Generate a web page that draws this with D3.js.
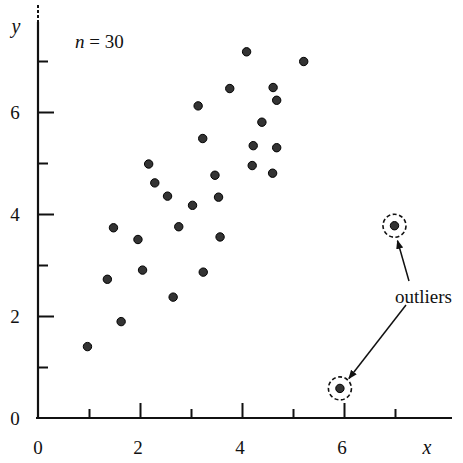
<!DOCTYPE html>
<html>
<head>
<meta charset="utf-8">
<script src="https://cdn.jsdelivr.net/npm/d3@7"></script>
<style>
  body { margin: 0; background: #fff; }
  text { font-family: "Liberation Serif", "DejaVu Serif", serif; fill: #111; }
</style>
</head>
<body>
<svg width="463" height="463"></svg>
<script>
let svg = d3.select("svg");

// donnees (n = 30)
let xs = [4.09, 5.21, 3.76, 4.61, 4.68, 3.14, 4.39, 3.23, 4.22, 4.68,
          2.17, 4.20, 3.47, 4.60, 2.29, 2.54, 3.54, 3.03, 1.48, 2.76,
          3.57, 1.96, 2.05, 3.24, 1.36, 2.65, 1.63, 0.97, 6.99, 5.92];
let ys = [7.18, 6.99, 6.46, 6.48, 6.23, 6.12, 5.80, 5.48, 5.34, 5.30,
          4.98, 4.95, 4.76, 4.80, 4.61, 4.35, 4.33, 4.17, 3.73, 3.75,
          3.55, 3.50, 2.90, 2.86, 2.72, 2.37, 1.89, 1.40, 3.77, 0.58];
let outlierIdx = [28, 29];
let tickValues = [1, 2, 3, 4, 5, 6, 7];
let labelValues = [0, 2, 4, 6];

let points = xs.map((v, i) => ({ x: v, y: ys[i], outlier: outlierIdx.includes(i) }));

let x = d3.scaleLinear().domain([0, 7]).range([38, 395]);
let y = d3.scaleLinear().domain([0, 7]).range([418, 61]);

// fleches
let defs = svg.append("defs");
defs.append("marker")
    .attr("id", "fleche")
    .attr("viewBox", "0 0 10 10")
    .attr("refX", 9).attr("refY", 5)
    .attr("markerWidth", 9).attr("markerHeight", 9)
    .attr("markerUnits", "userSpaceOnUse")
    .attr("orient", "auto")
    .append("path")
    .attr("d", "M0,1 L10,5 L0,9 Z")
    .attr("fill", "#111");

// axe des x (graduations vers le haut)
let axeX = svg.append("g")
    .attr("transform", `translate(0,${y(0)})`)
    .call(d3.axisBottom(x).tickValues(tickValues).tickSize(-9).tickFormat("").tickSizeOuter(0));
axeX.select(".domain").remove();
axeX.selectAll(".tick line")
    .attr("y2", d => d % 2 == 0 ? -15 : -9)
    .attr("stroke", "#111").attr("stroke-width", 2);
svg.append("line")
    .attr("x1", x(0) - 2).attr("x2", 452)
    .attr("y1", y(0)).attr("y2", y(0))
    .attr("stroke", "#111").attr("stroke-width", 2.2);

// axe des y (graduations vers la droite)
let axeY = svg.append("g")
    .attr("transform", `translate(${x(0)},0)`)
    .call(d3.axisLeft(y).tickValues(tickValues).tickSize(-9).tickFormat("").tickSizeOuter(0));
axeY.select(".domain").remove();
axeY.selectAll(".tick line")
    .attr("x2", d => d % 2 == 0 ? 16 : 10)
    .attr("stroke", "#111").attr("stroke-width", 2);
svg.append("line")
    .attr("x1", x(0)).attr("x2", x(0))
    .attr("y1", 22).attr("y2", y(0) + 1)
    .attr("stroke", "#111").attr("stroke-width", 2.2);
svg.append("line")
    .attr("x1", x(0)).attr("x2", x(0))
    .attr("y1", 5).attr("y2", 22)
    .attr("stroke", "#111").attr("stroke-width", 2)
    .attr("stroke-dasharray", "3,2");

// etiquettes
svg.selectAll("text.lx")
    .data(labelValues)
    .enter().append("text")
    .attr("class", "lx")
    .attr("x", d => x(d) + (d == 0 ? 0 : -2))
    .attr("y", y(0) + 36)
    .attr("text-anchor", "middle")
    .style("font-size", "19px")
    .text(d => d);
svg.selectAll("text.ly")
    .data(labelValues)
    .enter().append("text")
    .attr("class", "ly")
    .attr("x", 15)
    .attr("y", d => y(d) + 7)
    .attr("text-anchor", "middle")
    .style("font-size", "19px")
    .text(d => d);

svg.append("text")
    .attr("x", 427).attr("y", 454)
    .attr("text-anchor", "middle")
    .style("font-size", "20px").style("font-style", "italic")
    .text("x");
svg.append("text")
    .attr("x", 16).attr("y", 33)
    .attr("text-anchor", "middle")
    .style("font-size", "20px").style("font-style", "italic")
    .text("y");
let nlab = svg.append("text")
    .attr("x", 75).attr("y", 48)
    .style("font-size", "19px");
nlab.append("tspan").style("font-style", "italic").text("n");
nlab.append("tspan").text(" = 30");

// cercles pointilles autour des valeurs aberrantes
svg.selectAll("circle.halo")
    .data(points.filter(d => d.outlier))
    .enter().append("circle")
    .attr("class", "halo")
    .attr("cx", d => x(d.x))
    .attr("cy", d => y(d.y))
    .attr("r", 11.5)
    .attr("fill", "none")
    .attr("stroke", "#111")
    .attr("stroke-width", 1.6)
    .attr("stroke-dasharray", "4,2.5");

// points
svg.selectAll("circle.pt")
    .data(points)
    .enter().append("circle")
    .attr("class", "pt")
    .attr("cx", d => x(d.x))
    .attr("cy", d => y(d.y))
    .attr("r", 4.2)
    .attr("fill", "#333")
    .attr("stroke", "#000")
    .attr("stroke-width", 1);

// annotation "outliers"
svg.append("text")
    .attr("x", 395).attr("y", 303)
    .style("font-size", "19px")
    .text("outliers");
let o1 = points[28], o2 = points[29];
svg.append("line")
    .attr("x1", 409).attr("y1", 281)
    .attr("x2", x(o1.x) + 3).attr("y2", y(o1.y) + 15)
    .attr("stroke", "#111").attr("stroke-width", 1.5)
    .attr("marker-end", "url(#fleche)");
svg.append("line")
    .attr("x1", 406).attr("y1", 305)
    .attr("x2", x(o2.x) + 9).attr("y2", y(o2.y) - 10)
    .attr("stroke", "#111").attr("stroke-width", 1.5)
    .attr("marker-end", "url(#fleche)");
</script>
</body>
</html>
